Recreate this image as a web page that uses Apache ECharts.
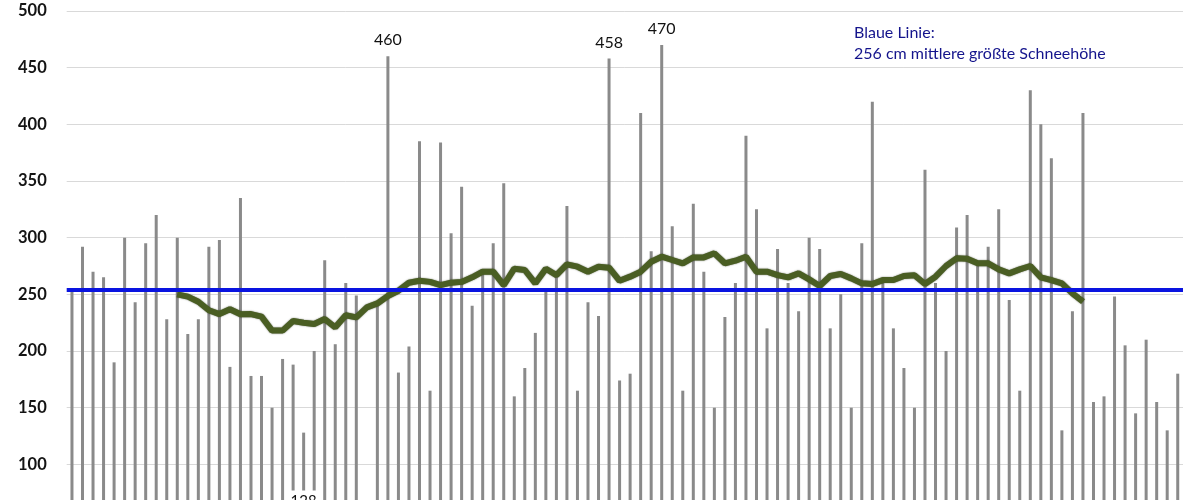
<!DOCTYPE html>
<html>
<head>
<meta charset="utf-8">
<script src="https://cdn.jsdelivr.net/npm/echarts@6/dist/echarts.min.js"></script>
<style>
html,body{margin:0;padding:0;background:#fff;}
#c{width:1200px;height:500px;}
</style>
</head>
<body>
<div id="c"></div>
<script>
// Category labels (not visible in the crop): sequential winter numbers
const categories = [];
for (let i = 1; i <= 106; i++) categories.push(String(i));

// Greatest snow depth per winter (cm)
const snowDepth = [
  255, 292, 270, 265, 190, 300, 243, 295, 320, 228,
  300, 215, 228, 292, 298, 186, 335, 178, 178, 150,
  193, 188, 128, 200, 280, 206, 260, 249, null, 240,
  460, 181, 204, 385, 165, 384, 304, 345, 240, 268,
  295, 348, 160, 185, 216, 255, 266, 328, 165, 243,
  231, 458, 174, 180, 410, 288, 470, 310, 165, 330,
  270, 150, 230, 260, 390, 325, 220, 290, 260, 235,
  300, 290, 220, 250, 150, 295, 420, 260, 220, 185,
  150, 360, 260, 200, 309, 320, 275, 292, 325, 245,
  165, 430, 400, 370, 130, 235, 410, 155, 160, 248,
  205, 145, 210, 155, 130, 180
];

// Moving average (green line)
const movingAvg = [
  null, null, null, null, null, null, null, null, null, null,
  250, 248, 243.5, 236, 232.6, 236.8, 232.4, 232.6, 230.3, 218,
  218, 226.5, 225, 223.8, 228.2, 220.9, 231.5, 229.7, 238.5, 242,
  248.5, 253.2, 260.3, 262, 261, 258.2, 260.3, 261, 265, 270,
  270, 258.2, 272.6, 271.5, 259.7, 272.6, 267, 276.5, 274.4, 270,
  274.4, 273.5, 262, 265.6, 270, 278.8, 283.2, 280.3, 277.4, 282.6,
  282.6, 286.2, 277.4, 279.7, 283.2, 270, 270, 267, 265, 268.5,
  263.2, 257.4, 266.2, 268, 264.1, 259.7, 259.1, 262.6, 262.6, 266.2,
  266.8, 259.1, 265.6, 275, 281.8, 281.5, 277.4, 277.4, 272, 268.5,
  272, 275, 265, 262.6, 259.7, 250.9, 243.5, null, null, null,
  null, null, null, null, null, null
];

const meanLine = 254;           // blue line position as drawn
const labeledIdx = [30, 51, 56]; // bars with value labels on top
const minIdx = 22;               // minimum bar, labelled at bottom
const minLabelPos = 67.6;

const yTicks = { min: 0, max: 500, interval: 50 };

const chart = echarts.init(document.getElementById('c'));
chart.setOption({
  animation: false,
  backgroundColor: '#ffffff',
  title: {
    text: 'Blaue Linie:\n256 cm mittlere größte Schneehöhe',
    left: 849,
    top: 17,
    textStyle: {
      fontFamily: 'Lato',
      fontSize: 16,
      fontWeight: 'normal',
      color: '#14148c',
      lineHeight: 21
    }
  },
  grid: { left: 66.7, right: 17, top: 11, height: 566.7, outerBoundsMode: 'none', containLabel: false },
  xAxis: {
    type: 'category',
    data: categories,
    boundaryGap: true,
    axisLine: { show: false },
    axisTick: { show: false },
    axisLabel: { show: false }
  },
  yAxis: {
    type: 'value',
    min: yTicks.min,
    max: yTicks.max,
    interval: yTicks.interval,
    axisLine: { show: false },
    axisTick: { show: false },
    axisLabel: {
      fontFamily: 'Lato',
      fontSize: 16.5,
      fontWeight: 'bold',
      color: '#141414',
      margin: 20
    },
    splitLine: { lineStyle: { color: '#d9d9d9', width: 1 } }
  },
  series: [
    {
      type: 'bar',
      data: snowDepth,
      barWidth: 3,
      z: 2,
      itemStyle: { color: '#8a8a8a' },
      label: {
        show: true,
        position: 'top',
        distance: 8,
        fontFamily: 'Lato',
        fontSize: 16,
        color: '#111',
        formatter: p => labeledIdx.includes(p.dataIndex) ? String(p.value) : ''
      },
      markPoint: {
        symbol: 'rect',
        symbolSize: 0,
        z: 10,
        label: {
          show: true,
          position: 'inside',
          fontFamily: 'Lato',
          fontSize: 15,
          color: '#111',
          backgroundColor: '#ffffff',
          padding: [3, 5],
          formatter: () => String(snowDepth[minIdx])
        },
        data: [{ coord: [categories[minIdx], minLabelPos] }]
      }
    },
    {
      type: 'line',
      data: [],
      z: 3,
      markLine: {
        symbol: 'none',
        silent: true,
        label: { show: false },
        lineStyle: { color: '#0a14e0', width: 4, type: 'solid' },
        data: [{ yAxis: meanLine }]
      }
    },
    {
      type: 'line',
      data: movingAvg,
      z: 4,
      symbol: 'none',
      connectNulls: false,
      lineStyle: { color: '#4a5e23', width: 6, shadowColor: 'rgba(25,35,8,0.7)', shadowBlur: 1.5 }
    }
  ]
});
</script>
</body>
</html>
